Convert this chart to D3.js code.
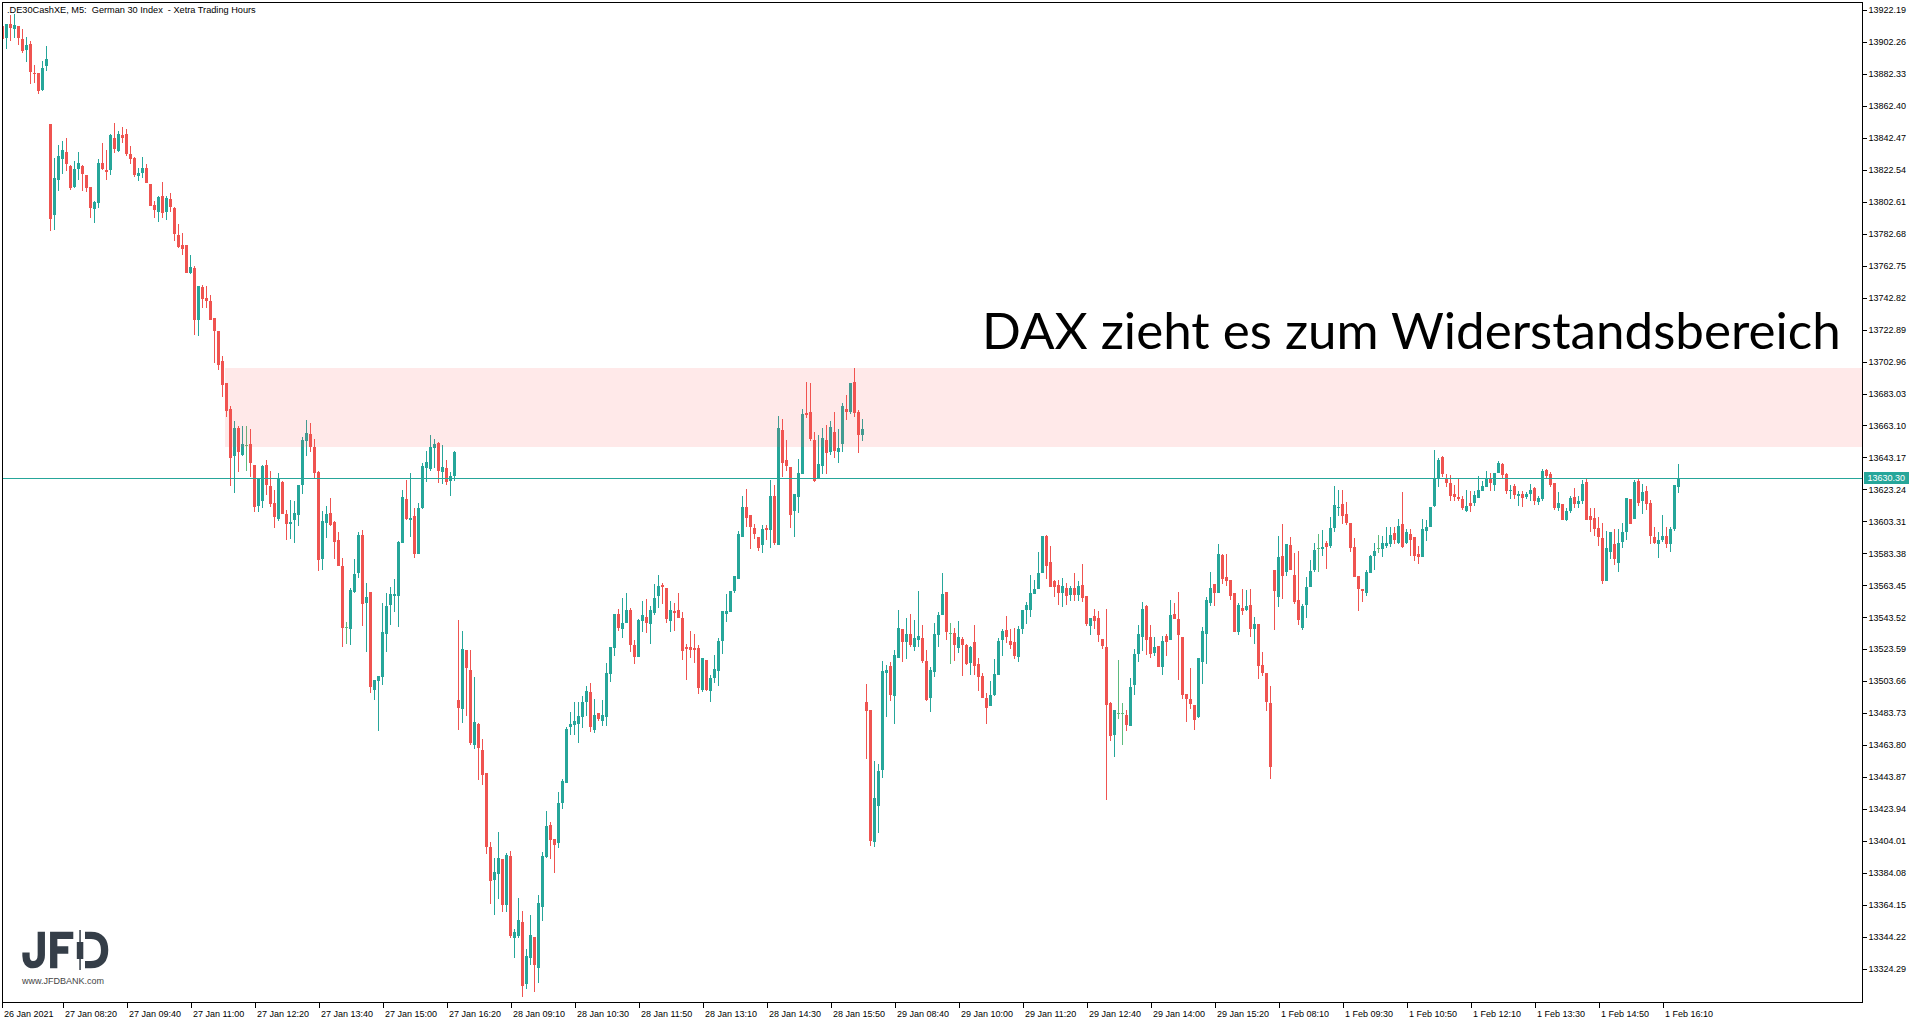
<!DOCTYPE html>
<html><head><meta charset="utf-8">
<script src="https://cdn.jsdelivr.net/npm/d3@7"></script>
<style>html,body{margin:0;padding:0;background:#fff;overflow:hidden}</style>
</head><body><svg id="c" width="1921" height="1023"></svg>
<script>
// ---------- DATA (M5 candles, 26 Jan 2021 15:30 .. 1 Feb 2021 16:25) ----------
const opens = [
13912.1,13904.8,13913.1,13910.4,13912.1,13904.0,13897.3,13901.1,13883.0,13882.8,13872.4,13887.0,
13851.0,13794.5,13816.3,13829.4,13833.6,13824.9,13811.8,13823.2,13824.9,13819.2,13811.8,13798.3,13802.0,13826.7,13822.4,13822.4,13842.3,13834.2,
13844.2,13844.8,13832.3,13829.8,13818.8,13820.7,13823.6,13813.6,13800.5,13796.4,13806.2,13796.4,13804.3,13798.9,13781.8,13775.6,13775.6,13758.4,
13761.3,13729.1,13749.4,13742.6,13740.7,13730.1,13722.2,13703.3,13689.6,13673.4,13644.3,13661.5,13644.9,13650.7,13651.8,13638.7,13613.1,13616.2,
13638.7,13625.6,13615.0,13605.0,13628.1,13608.1,13601.9,13604.4,13607.5,13626.2,13653.6,13657.8,13649.7,13634.3,13580.1,13602.5,13608.7,13603.1,
13591.9,13575.7,13537.5,13536.4,13559.5,13571.3,13595.0,13552.6,13559.5,13498.4,13504.0,13506.5,13533.3,13551.4,13557.0,13557.0,13590.0,13617.5,
13604.4,13606.9,13583.2,13611.8,13636.8,13636.2,13649.3,13652.4,13634.3,13636.8,13628.7,13631.8,
13491.9,13486.4,13523.1,13510.7,13463.9,13477.0,13460.8,13446.5,13400.3,13379.7,13383.5,13392.8,13364.2,13394.7,13343.6,13344.8,13353.6,13314.9,
13331.1,13344.2,13324.9,13362.9,13394.1,13414.0,13405.3,13402.8,13427.8,13440.2,13475.1,13476.4,13477.0,13481.4,13490.7,13496.9,13473.3,13483.9,
13478.9,13481.4,13508.2,13524.4,13545.6,13536.4,13540.1,13548.0,13526.4,13518.9,13541.4,13543.7,13539.5,13546.4,13557.0,13563.6,13562.0,13541.4,
13547.6,13548.0,13543.1,13525.2,13525.2,13524.6,13524.4,13498.4,13517.1,13497.8,13505.9,13510.2,13528.9,13545.8,13547.0,13559.9,13567.6,13593.8,
13612.3,13607.3,13599.2,13593.5,13588.8,13599.2,13598.1,13619.1,13588.8,13660.3,13641.6,13637.2,13610.0,13618.7,13633.0,13670.9,13671.5,13654.0,
13630.5,13638.0,13654.0,13646.7,13659.0,13646.7,13651.7,13673.4,13671.7,13690.2,13671.5,13657.4,
13490.7,13485.7,13403.6,13426.1,13448.5,13509.0,13513.1,13494.6,13518.3,13536.2,13528.3,13533.1,13525.2,13529.5,13530.6,13516.2,13493.4,13509.6,
13532.7,13545.1,13559.2,13533.5,13533.7,13524.5,13529.9,13526.2,13515.2,13528.1,13514.4,13506.9,13493.2,13488.4,13495.2,13507.7,13529.5,13535.6,
13528.7,13528.1,13518.9,13536.4,13548.0,13548.2,13558.2,13561.3,13571.3,13594.2,13578.0,13566.3,13563.6,13558.8,13561.7,13557.6,13561.7,13557.6,
13563.6,13556.7,13538.3,13544.3,13543.0,13530.2,13525.0,13490.3,13470.3,13483.6,13483.6,13482.6,13475.9,13501.5,13520.8,13531.4,13550.5,13531.2,
13521.4,13525.6,13512.7,13531.8,13529.5,13545.5,13542.4,13531.2,13495.7,13492.5,13488.8,13481.5,13515.8,13533.3,13552.6,13564.2,13558.8,13582.3,
13568.6,13566.7,13558.6,13534.5,13549.3,13548.2,13551.1,13536.4,13539.3,13513.9,13508.9,13490.3,
13572.9,13556.3,13581.7,13571.9,13588.5,13569.8,13554.2,13537.0,13551.3,13562.5,13573.1,13586.6,13586.2,13589.8,13588.1,13599.3,13611.4,13614.1,
13607.8,13602.4,13587.3,13569.4,13561.3,13558.8,13571.3,13581.9,13586.6,13586.2,13588.1,13589.3,13596.0,13590.0,13601.6,13590.0,13595.4,13593.5,
13582.9,13581.2,13597.4,13599.9,13612.8,13629.9,13643.4,13629.9,13627.4,13620.5,13618.4,13617.2,13609.9,13614.7,13614.7,13618.0,13622.4,13624.9,
13629.9,13626.1,13633.6,13639.2,13632.8,13622.4,13625.3,13619.3,13620.3,13618.6,13620.3,13624.0,13615.5,13617.4,13635.3,13633.0,13627.4,13611.6,
13614.3,13604.3,13609.5,13618.4,13614.3,13616.1,13628.0,13606.6,13605.3,13599.1,13592.9,13566.3,13584.3,13589.1,13577.5,13590.6,13596.8,13617.4,
13604.9,13628.4,13616.1,13622.2,13614.7,13593.7,13589.3,13591.8,13594.3,13589.3,13598.5,13624.9
];
const highs = [
13912.7,13913.3,13918.9,13919.6,13912.3,13910.2,13905.2,13902.7,13887.8,13883.0,13890.1,13899.6,
13851.0,13829.8,13837.9,13840.4,13842.3,13825.5,13828.0,13833.6,13825.5,13819.5,13812.0,13803.0,13829.2,13839.2,13834.8,13844.5,13851.7,13846.7,
13849.2,13847.9,13837.3,13830.5,13823.6,13830.5,13826.1,13813.8,13803.0,13806.2,13815.1,13806.2,13808.2,13799.0,13788.7,13783.1,13775.6,13769.4,
13762.7,13750.2,13750.7,13750.0,13744.4,13730.3,13722.2,13706.4,13689.8,13675.2,13665.9,13662.8,13662.8,13662.8,13660.9,13638.7,13630.3,13638.7,
13641.8,13634.9,13623.1,13633.7,13628.7,13610.6,13616.8,13616.2,13626.2,13655.9,13666.5,13664.6,13654.7,13634.9,13610.0,13613.1,13618.1,13603.7,
13596.9,13580.7,13540.8,13562.0,13580.1,13596.9,13598.1,13565.1,13559.5,13504.6,13507.1,13552.6,13558.9,13562.6,13567.6,13591.3,13623.1,13629.3,
13633.7,13611.8,13615.0,13639.9,13647.2,13657.2,13654.7,13653.0,13651.1,13641.8,13634.3,13647.4,
13541.8,13535.0,13523.1,13523.1,13506.3,13477.6,13467.6,13446.5,13403.4,13393.5,13409.7,13392.8,13396.6,13397.8,13349.2,13368.5,13360.4,13336.7,
13357.9,13344.2,13370.4,13397.2,13422.8,13415.9,13405.3,13434.6,13442.7,13475.1,13484.5,13490.7,13490.7,13494.5,13500.7,13502.6,13492.6,13483.9,
13492.0,13515.0,13525.0,13545.6,13548.7,13555.7,13558.4,13549.3,13529.5,13542.4,13553.7,13554.9,13550.5,13564.3,13569.9,13564.9,13562.0,13553.7,
13552.4,13558.6,13546.8,13527.1,13534.9,13533.3,13526.4,13518.3,13517.1,13507.7,13520.2,13530.8,13547.4,13558.2,13559.9,13569.5,13597.3,13619.1,
13623.5,13607.3,13601.7,13593.5,13601.0,13601.0,13629.1,13626.0,13669.0,13667.1,13654.0,13637.2,13620.4,13642.2,13673.4,13690.2,13689.6,13659.0,
13657.1,13661.5,13663.4,13665.9,13671.5,13660.9,13677.1,13682.1,13689.6,13698.9,13672.7,13667.1,
13501.9,13485.7,13454.0,13452.1,13516.2,13513.7,13515.6,13523.1,13548.0,13536.2,13543.0,13545.5,13541.8,13559.9,13538.7,13523.1,13512.5,13539.9,
13546.8,13571.1,13559.2,13539.9,13536.8,13541.2,13531.2,13526.8,13525.8,13538.7,13518.1,13508.8,13496.5,13503.8,13517.5,13530.6,13536.2,13544.3,
13536.2,13536.8,13538.1,13548.0,13553.0,13570.1,13566.7,13584.2,13594.2,13594.8,13587.9,13566.9,13566.7,13568.0,13564.9,13563.0,13571.1,13566.1,
13576.7,13556.7,13543.0,13548.6,13547.4,13530.2,13548.6,13490.9,13485.7,13516.9,13490.0,13485.7,13505.6,13523.7,13538.7,13553.0,13551.1,13538.7,
13531.2,13525.6,13531.8,13533.1,13554.3,13552.4,13559.2,13531.2,13495.7,13511.9,13488.8,13518.1,13537.4,13556.1,13571.7,13564.2,13589.2,13582.9,
13582.9,13566.7,13558.6,13552.4,13561.1,13560.5,13561.1,13543.7,13539.3,13522.0,13508.9,13500.9,
13572.9,13594.1,13601.6,13589.1,13593.5,13583.5,13584.8,13551.7,13568.8,13579.2,13589.8,13595.4,13597.9,13591.0,13606.0,13625.3,13622.8,13622.8,
13615.3,13602.4,13592.9,13569.4,13561.3,13572.9,13582.5,13589.8,13594.7,13594.1,13599.7,13599.7,13599.7,13604.7,13621.5,13598.5,13598.5,13593.5,
13587.9,13604.7,13604.1,13612.2,13647.7,13642.7,13644.0,13633.0,13632.4,13626.1,13629.7,13619.1,13622.8,13622.2,13622.2,13631.7,13628.6,13634.6,
13633.6,13633.6,13641.1,13639.8,13633.6,13626.1,13626.7,13622.4,13622.2,13621.5,13626.5,13624.9,13619.3,13636.1,13635.9,13634.0,13627.4,13621.8,
13614.3,13611.8,13619.3,13624.0,13619.3,13629.0,13629.9,13611.8,13611.8,13606.0,13602.2,13597.2,13596.6,13598.5,13598.5,13602.2,13617.8,13617.4,
13629.0,13630.3,13626.5,13625.3,13616.6,13599.9,13596.8,13607.2,13599.7,13599.7,13626.1,13639.2
];
const lows = [
13904.0,13897.6,13902.9,13904.8,13900.4,13895.3,13889.5,13875.9,13876.4,13869.9,13871.6,13884.0,
13784.5,13785.0,13809.5,13819.9,13821.9,13810.1,13811.3,13816.3,13809.5,13808.9,13792.6,13789.5,13798.9,13822.6,13816.3,13819.5,13833.0,13833.6,
13839.2,13831.1,13826.3,13818.2,13815.7,13817.6,13814.0,13799.9,13792.6,13790.2,13792.6,13791.4,13796.4,13778.3,13773.9,13769.6,13758.4,13757.7,
13719.7,13719.1,13736.5,13736.5,13728.9,13701.8,13697.9,13681.1,13668.2,13625.6,13621.2,13634.3,13644.3,13634.9,13631.2,13609.4,13609.4,13611.9,
13620.0,13612.5,13599.4,13603.3,13607.9,13591.9,13592.5,13590.0,13600.6,13620.6,13644.3,13646.8,13629.9,13572.6,13573.2,13593.1,13600.6,13580.1,
13575.7,13525.2,13527.1,13526.4,13558.9,13568.2,13538.3,13522.1,13496.5,13492.2,13472.8,13501.5,13522.1,13538.9,13547.0,13537.7,13590.0,13604.4,
13593.8,13580.7,13583.2,13611.2,13628.1,13634.9,13636.8,13627.4,13626.8,13626.2,13619.3,13628.7,
13473.3,13477.8,13482.0,13463.7,13461.4,13442.1,13439.0,13396.0,13364.8,13357.9,13367.9,13359.8,13359.8,13343.6,13331.1,13343.6,13306.8,13311.8,
13326.8,13309.9,13315.5,13354.2,13393.5,13392.8,13384.1,13399.7,13424.0,13440.2,13470.1,13470.1,13465.2,13474.5,13482.0,13472.0,13471.4,13478.9,
13475.8,13475.8,13503.2,13519.4,13535.0,13530.6,13540.1,13522.1,13514.6,13518.9,13534.5,13533.9,13527.1,13545.1,13549.5,13552.0,13540.1,13534.5,
13535.2,13543.3,13517.1,13504.6,13518.3,13515.2,13495.9,13497.1,13497.8,13490.9,13502.7,13500.9,13520.8,13540.8,13547.0,13558.6,13567.6,13593.8,
13600.0,13586.3,13592.5,13585.0,13583.8,13591.9,13586.9,13588.8,13588.8,13631.2,13634.9,13599.4,13593.8,13608.7,13633.0,13667.9,13653.6,13628.1,
13630.5,13633.0,13633.0,13644.9,13643.0,13639.9,13646.7,13666.5,13670.4,13668.2,13646.1,13653.6,
13455.2,13400.9,13400.5,13409.3,13443.5,13481.5,13491.5,13477.2,13518.3,13515.8,13517.7,13525.2,13522.7,13525.2,13515.2,13491.5,13484.6,13506.5,
13525.2,13545.1,13529.5,13514.6,13516.4,13521.4,13507.1,13513.9,13507.7,13507.7,13497.7,13493.4,13477.2,13488.4,13494.6,13507.7,13519.6,13527.7,
13523.9,13517.7,13515.8,13533.3,13539.5,13543.9,13558.2,13561.3,13571.3,13567.6,13562.6,13556.3,13551.4,13550.1,13551.4,13553.8,13553.8,13553.8,
13553.2,13538.3,13532.7,13536.4,13528.3,13523.9,13429.8,13466.6,13456.6,13480.3,13464.1,13472.8,13475.9,13495.2,13515.8,13522.7,13520.2,13518.3,
13519.6,13512.7,13507.7,13519.6,13529.5,13542.6,13504.6,13492.8,13478.4,13486.5,13473.4,13480.9,13502.1,13514.6,13550.7,13550.7,13558.8,13564.4,
13563.2,13554.5,13534.5,13532.7,13545.1,13547.6,13531.4,13527.0,13505.2,13507.1,13485.3,13442.9,
13535.5,13550.1,13555.1,13569.4,13573.1,13551.9,13538.8,13535.7,13543.2,13562.5,13571.9,13571.9,13581.9,13573.8,13586.8,13596.8,13606.8,13601.6,
13601.2,13584.3,13568.8,13547.6,13553.2,13556.9,13571.3,13573.1,13583.7,13581.2,13586.8,13587.5,13589.3,13589.3,13586.8,13589.3,13581.7,13578.7,
13576.9,13581.2,13591.2,13599.9,13612.2,13624.9,13631.1,13624.9,13616.1,13616.1,13616.1,13610.5,13609.3,13609.3,13613.0,13618.0,13622.4,13624.9,
13622.4,13622.4,13633.6,13629.9,13620.5,13617.4,13617.4,13613.0,13612.2,13617.4,13616.1,13613.7,13613.7,13616.1,13629.9,13624.9,13610.5,13609.9,
13604.3,13603.5,13608.7,13611.8,13611.8,13614.3,13604.3,13596.8,13594.1,13588.1,13564.4,13566.3,13580.0,13576.2,13571.9,13586.8,13591.8,13601.4,
13604.9,13612.8,13608.0,13610.5,13589.3,13589.3,13580.6,13590.6,13586.8,13584.3,13597.4,13621.1
];
const closes = [
13904.2,13913.3,13911.0,13912.9,13904.6,13896.7,13900.2,13883.6,13882.6,13871.8,13885.9,13891.5,
13792.0,13817.4,13831.1,13834.8,13826.3,13811.3,13823.0,13826.7,13820.1,13811.3,13798.9,13802.4,13826.7,13823.0,13821.3,13844.2,13835.5,13844.8,
13842.5,13832.3,13829.2,13819.2,13820.5,13823.6,13814.5,13800.1,13797.6,13805.5,13795.8,13804.9,13799.5,13782.7,13774.6,13773.3,13758.4,13761.9,
13729.1,13750.0,13742.2,13740.9,13729.1,13722.2,13701.0,13688.5,13672.3,13643.0,13661.5,13646.8,13651.8,13650.7,13639.9,13612.5,13630.1,13638.0,
13626.0,13614.4,13606.2,13629.9,13608.1,13601.9,13603.1,13608.7,13626.2,13654.0,13658.4,13649.9,13633.7,13579.4,13603.7,13608.1,13601.3,13590.7,
13575.7,13537.0,13537.5,13560.7,13570.7,13595.0,13552.0,13556.4,13500.3,13504.6,13507.1,13534.5,13550.8,13558.2,13558.2,13590.7,13618.7,13605.0,
13605.6,13583.2,13611.8,13638.0,13640.5,13649.9,13651.7,13634.9,13637.4,13628.1,13631.8,13646.8,
13487.2,13523.5,13511.9,13465.0,13478.2,13462.0,13445.2,13400.3,13379.1,13384.7,13393.5,13364.2,13395.3,13344.8,13347.3,13354.8,13313.7,13332.4,
13345.5,13326.8,13365.4,13394.7,13413.4,13404.7,13401.6,13427.8,13441.5,13473.9,13477.0,13478.9,13482.0,13490.7,13497.6,13475.1,13482.6,13480.1,
13482.6,13508.8,13525.0,13545.6,13536.8,13540.1,13548.0,13526.4,13518.9,13541.8,13544.9,13540.1,13548.0,13555.7,13563.2,13562.6,13542.6,13548.0,
13546.4,13543.3,13522.7,13523.7,13523.3,13523.3,13499.6,13518.3,13498.4,13505.9,13511.5,13528.9,13547.4,13547.4,13559.9,13569.2,13595.4,13612.3,
13605.6,13600.0,13595.6,13586.7,13598.5,13598.1,13619.1,13590.0,13661.5,13639.9,13638.0,13607.5,13620.4,13633.5,13670.2,13669.8,13654.9,13628.7,
13639.1,13655.3,13646.1,13662.1,13647.4,13648.8,13675.2,13671.7,13689.6,13671.1,13657.4,13660.9,
13485.3,13404.3,13430.9,13447.7,13510.0,13510.6,13495.2,13520.0,13536.8,13528.3,13533.1,13526.4,13530.6,13531.8,13516.4,13492.1,13510.6,13533.1,
13544.9,13558.0,13534.5,13533.5,13526.4,13531.2,13526.4,13514.6,13525.2,13513.3,13506.5,13493.4,13487.1,13495.0,13508.1,13528.7,13534.9,13531.4,
13526.4,13519.6,13536.2,13548.0,13551.1,13558.6,13561.1,13571.1,13594.2,13575.7,13562.6,13562.6,13558.8,13563.0,13557.0,13561.7,13557.6,13563.0,
13555.7,13539.5,13543.0,13541.4,13532.7,13525.8,13489.0,13469.7,13485.7,13483.6,13483.6,13476.5,13500.0,13520.6,13533.1,13548.6,13529.5,13520.8,
13525.0,13512.7,13528.7,13528.3,13544.9,13542.6,13532.7,13495.2,13492.8,13489.6,13479.7,13518.1,13534.9,13554.3,13561.7,13558.8,13582.9,13567.6,
13566.3,13557.0,13534.5,13551.1,13547.6,13550.5,13536.4,13539.3,13513.3,13508.9,13490.9,13450.4,
13560.0,13581.0,13569.4,13589.1,13573.1,13553.2,13542.0,13550.5,13562.3,13572.3,13585.4,13586.6,13587.3,13587.5,13599.1,13613.4,13612.2,13606.8,
13602.4,13586.8,13568.8,13561.3,13560.0,13571.9,13581.9,13584.8,13586.6,13589.8,13589.8,13594.7,13591.8,13600.4,13587.5,13596.6,13591.8,13581.9,
13581.2,13598.5,13599.7,13612.2,13629.9,13641.5,13633.0,13627.4,13619.3,13618.6,13617.4,13611.8,13613.0,13612.8,13619.9,13622.8,13625.3,13629.9,
13627.4,13633.6,13639.8,13632.4,13622.4,13623.2,13619.9,13620.3,13617.8,13620.3,13623.2,13616.1,13617.8,13634.8,13631.7,13626.1,13611.8,13614.7,
13604.3,13609.9,13617.8,13614.3,13615.9,13626.7,13604.3,13604.3,13598.7,13593.7,13566.3,13586.6,13596.6,13580.0,13589.8,13596.6,13617.8,13601.8,
13627.8,13614.9,13621.5,13614.3,13594.3,13590.0,13591.8,13594.3,13589.3,13598.7,13626.1,13630.30
];
const xTickLabels = ["26 Jan 2021","27 Jan 08:20","27 Jan 09:40","27 Jan 11:00","27 Jan 12:20","27 Jan 13:40",
  "27 Jan 15:00","27 Jan 16:20","28 Jan 09:10","28 Jan 10:30","28 Jan 11:50","28 Jan 13:10","28 Jan 14:30",
  "28 Jan 15:50","29 Jan 08:40","29 Jan 10:00","29 Jan 11:20","29 Jan 12:40","29 Jan 14:00","29 Jan 15:20",
  "1 Feb 08:10","1 Feb 09:30","1 Feb 10:50","1 Feb 12:10","1 Feb 13:30","1 Feb 14:50","1 Feb 16:10"];
const xTickEvery = 16; // one label every 16 bars
const yTickValues = [13922.19,13902.26,13882.33,13862.40,13842.47,13822.54,13802.61,13782.68,13762.75,13742.82,
  13722.89,13702.96,13683.03,13663.10,13643.17,13623.24,13603.31,13583.38,13563.45,13543.52,13523.59,13503.66,
  13483.73,13463.80,13443.87,13423.94,13404.01,13384.08,13364.15,13344.22,13324.29];
const lastPrice = 13630.30;
const zoneLow = 13649.8, zoneHigh = 13698.7, zoneStartBar = 56;
const titleText = ".DE30CashXE, M5:  German 30 Index  - Xetra Trading Hours";
const noteText = "DAX zieht es zum Widerstandsbereich";

// ---------- DRAWING ----------
const svg = d3.select("#c");
const frame = {left:2.5, top:2.5, right:1862.5, bottom:1002.5};
const n = opens.length;
const x = d3.scaleLinear().domain([0, n-1]).range([2.5, 2.5 + 4*(n-1)]);
const y = d3.scaleLinear().domain([13324.29, 13922.19]).range([969.1, 9.8]);
const UP="#26a69a", DOWN="#ef5350", DOJI="#5cbb7e";

svg.append("rect").attr("width",1921).attr("height",1023).attr("fill","#fff");
svg.append("clipPath").attr("id","pc").append("rect")
  .attr("x",frame.left).attr("y",frame.top).attr("width",frame.right-frame.left).attr("height",frame.bottom-frame.top);
const g = svg.append("g").attr("clip-path","url(#pc)").attr("shape-rendering","crispEdges");

const idx = d3.range(n);
const col = i => closes[i]>opens[i]?UP:(closes[i]<opens[i]?DOWN:DOJI);
g.selectAll("rect.w").data(idx).join("rect").attr("class","w")
  .attr("x",i=>x(i)-0.5).attr("width",1)
  .attr("y",i=>y(Math.max(highs[i],opens[i],closes[i])))
  .attr("height",i=>Math.max(1,y(Math.min(lows[i],opens[i],closes[i]))-y(Math.max(highs[i],opens[i],closes[i]))))
  .attr("fill",col);
g.selectAll("rect.b").data(idx).join("rect").attr("class","b")
  .attr("x",i=>x(i)-1.5).attr("width",3)
  .attr("y",i=>y(Math.max(opens[i],closes[i])))
  .attr("height",i=>Math.max(1,y(Math.min(opens[i],closes[i]))-y(Math.max(opens[i],closes[i]))))
  .attr("fill",col);

// resistance zone
g.append("rect").attr("x",x(zoneStartBar)-1.5).attr("y",y(zoneHigh))
  .attr("width",frame.right-(x(zoneStartBar)-1.5)).attr("height",y(zoneLow)-y(zoneHigh))
  .attr("fill","rgba(255,82,82,0.13)");

// last price line
g.append("line").attr("x1",frame.left).attr("x2",frame.right)
  .attr("y1",Math.round(y(lastPrice))+0.5).attr("y2",Math.round(y(lastPrice))+0.5)
  .attr("stroke",UP).attr("stroke-width",1);

// frame
svg.append("rect").attr("x",frame.left).attr("y",frame.top)
  .attr("width",frame.right-frame.left).attr("height",frame.bottom-frame.top)
  .attr("fill","none").attr("stroke","#000").attr("stroke-width",1).attr("shape-rendering","crispEdges");

const FONT = "'Liberation Sans', Arial, sans-serif";
// y axis
svg.append("g").attr("shape-rendering","crispEdges").selectAll("line").data(yTickValues).join("line")
  .attr("x1",frame.right).attr("x2",frame.right+4)
  .attr("y1",v=>Math.round(y(v))+0.5).attr("y2",v=>Math.round(y(v))+0.5).attr("stroke","#000");
svg.append("g").selectAll("text").data(yTickValues).join("text")
  .attr("x",frame.right+6).attr("y",v=>y(v)).attr("dy","0.35em")
  .attr("font-family",FONT).attr("font-size",9).attr("fill","#000")
  .text(v=>d3.format(".2f")(v));
// last price tag
const ly = y(lastPrice);
svg.append("rect").attr("x",frame.right+1.5).attr("y",Math.round(ly)-6).attr("width",45).attr("height",12).attr("fill",UP);
svg.append("text").attr("x",frame.right+5).attr("y",ly).attr("dy","0.35em")
  .attr("font-family",FONT).attr("font-size",9).attr("fill","#fff").text(d3.format(".2f")(lastPrice));

// x axis
const xt = xTickLabels.map((s,k)=>({s, i:k*xTickEvery}));
const lx = d => Math.max(4, x(d.i)-1.5);
svg.append("g").attr("shape-rendering","crispEdges").selectAll("line").data(xt).join("line")
  .attr("x1",d=>Math.round(lx(d)-2)+0.5).attr("x2",d=>Math.round(lx(d)-2)+0.5)
  .attr("y1",frame.bottom).attr("y2",frame.bottom+5).attr("stroke","#000");
svg.append("g").selectAll("text").data(xt).join("text")
  .attr("x",lx).attr("y",frame.bottom+14)
  .attr("font-family",FONT).attr("font-size",9).attr("fill","#000").text(d=>d.s);

// title
svg.append("text").attr("x",7).attr("y",13).attr("font-family",FONT).attr("font-size",9.2)
  .attr("fill","#000").style("white-space","pre").text(titleText);

// annotation
const note = svg.append("text").attr("x",982).attr("y",349).attr("font-family","Lato, 'Open Sans', sans-serif")
  .attr("font-size",52).attr("fill","#000").text(noteText);
const tw = note.node().getComputedTextLength();
note.attr("font-size",52*859/tw);

// logo
const lg = svg.append("g").attr("fill","none").attr("stroke","#353e48").attr("stroke-width",7.3);
lg.append("path").attr("d","M41.3,931.7 V955 C41.3,961.5 37.5,964.7 33,964.7 C28.5,964.7 26,961.5 26,956 V952.5");
lg.append("path").attr("d","M53.7,968.3 V935.3 H73.3 M53.7,950 H68.3");
lg.append("path").attr("d","M85,935.3 H91 C100.5,935.3 104.6,941 104.6,950 C104.6,959 100.5,964.7 91,964.7 H85");
svg.append("rect").attr("x",79.3).attr("y",930).attr("width",1.5).attr("height",40).attr("fill","#353e48");
svg.append("rect").attr("x",76.8).attr("y",942).attr("width",6.5).attr("height",17).attr("fill","#353e48");
svg.append("text").attr("x",22).attr("y",984).attr("font-family",FONT).attr("font-size",9)
  .attr("fill","#444").text("www.JFDBANK.com");
</script></body></html>
